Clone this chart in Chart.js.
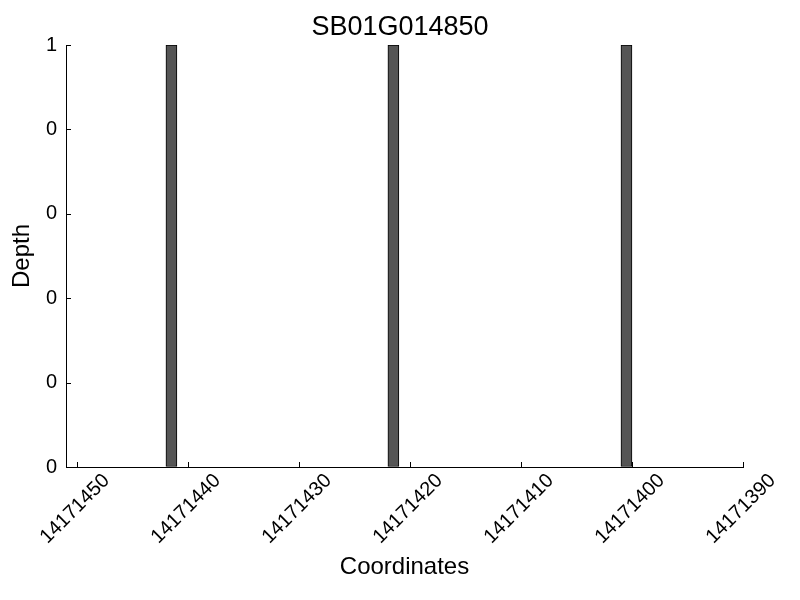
<!DOCTYPE html>
<html lang="en">
<head>
    <meta charset="UTF-8">
    <title>SB01G014850</title>
    <script src="https://cdn.jsdelivr.net/npm/chart.js"></script>
    <style>
        body { margin: 0; background: #fff; }
    </style>
</head>
<body>
    <canvas id="depthChart" width="800" height="600"></canvas>

    <script>
        // data
        const geneName = 'SB01G014850';
        const coords = [14171441, 14171421, 14171400];   // start coordinate of each covered base
        const depths = [1, 1, 1];
        const xMin = 14171390;
        const xMax = 14171451;
        const yTickStep = 0.2;

        const fontFamily = "'Liberation Sans', Arial, Helvetica, sans-serif";
        Chart.defaults.font.family = fontFamily;
        Chart.defaults.color = '#000';

        // inward tick marks + centred 45 degree x labels
        const axisDecor = {
            id: 'axisDecor',
            afterDraw(chart) {
                const ctx = chart.ctx;
                const a = chart.chartArea;
                const x = chart.scales.x;
                const y = chart.scales.y;
                ctx.save();
                ctx.strokeStyle = '#000';
                ctx.lineWidth = 1;
                ctx.beginPath();
                x.ticks.forEach(t => {
                    const px = Math.round(x.getPixelForValue(t.value)) + 0.5;
                    ctx.moveTo(px, a.bottom);
                    ctx.lineTo(px, a.bottom - 5);
                });
                y.ticks.forEach(t => {
                    const py = Math.round(y.getPixelForValue(t.value)) + 0.5;
                    ctx.moveTo(a.left, py);
                    ctx.lineTo(a.left + 5, py);
                });
                ctx.stroke();

                ctx.fillStyle = '#000';
                ctx.font = '20px ' + fontFamily;
                ctx.textAlign = 'center';
                ctx.textBaseline = 'middle';
                x.ticks.forEach(t => {
                    ctx.save();
                    ctx.translate(x.getPixelForValue(t.value) - 2, a.bottom + 42);
                    ctx.rotate(-Math.PI / 4);
                    ctx.fillText(String(t.value), 0, 0);
                    ctx.restore();
                });
                ctx.restore();
            }
        };

        new Chart(document.getElementById('depthChart').getContext('2d'), {
            type: 'bar',
            data: {
                datasets: [{
                    label: 'Depth',
                    data: coords.map((c, i) => ({ x: c + 0.5, y: depths[i] })),
                    backgroundColor: '#555555',
                    borderColor: '#000',
                    borderWidth: 1,
                    borderSkipped: false,
                    barThickness: 11
                }]
            },
            options: {
                responsive: false,
                animation: false,
                layout: { padding: 0 },
                plugins: {
                    legend: { display: false },
                    tooltip: { enabled: false },
                    title: {
                        display: true,
                        text: geneName,
                        color: '#000',
                        font: { size: 27, weight: 'normal' },
                        padding: { top: 11.5, bottom: 1.1 }
                    }
                },
                scales: {
                    x: {
                        type: 'linear',
                        reverse: true,
                        offset: false,
                        min: xMin,
                        max: xMax,
                        grid: { display: true, offset: false, drawOnChartArea: false, drawTicks: false },
                        border: { display: true, color: '#000', width: 1 },
                        ticks: { display: false, stepSize: 10, includeBounds: false },
                        title: {
                            display: true,
                            text: 'Coordinates',
                            font: { size: 24 },
                            padding: { top: 0, bottom: 18.6 }
                        },
                        afterFit: s => { s.height = 133; }
                    },
                    y: {
                        min: 0,
                        max: 1,
                        grid: { display: true, drawOnChartArea: false, drawTicks: false },
                        border: { display: true, color: '#000', width: 1 },
                        ticks: {
                            stepSize: yTickStep,
                            padding: 9,
                            font: { size: 20 },
                            callback: v => String(Math.floor(v + 1e-9))
                        },
                        title: {
                            display: true,
                            text: 'Depth',
                            font: { size: 24 },
                            padding: { top: 7.6, bottom: 0 }
                        },
                        afterFit: s => { s.width = 66; }
                    },
                    // empty right-hand strip so the title stays centred on the page
                    yRight: {
                        position: 'right',
                        display: true,
                        grid: { display: false },
                        border: { display: false },
                        ticks: { display: false },
                        afterFit: s => { s.width = 57; }
                    }
                }
            },
            plugins: [axisDecor]
        });
    </script>
</body>
</html>
